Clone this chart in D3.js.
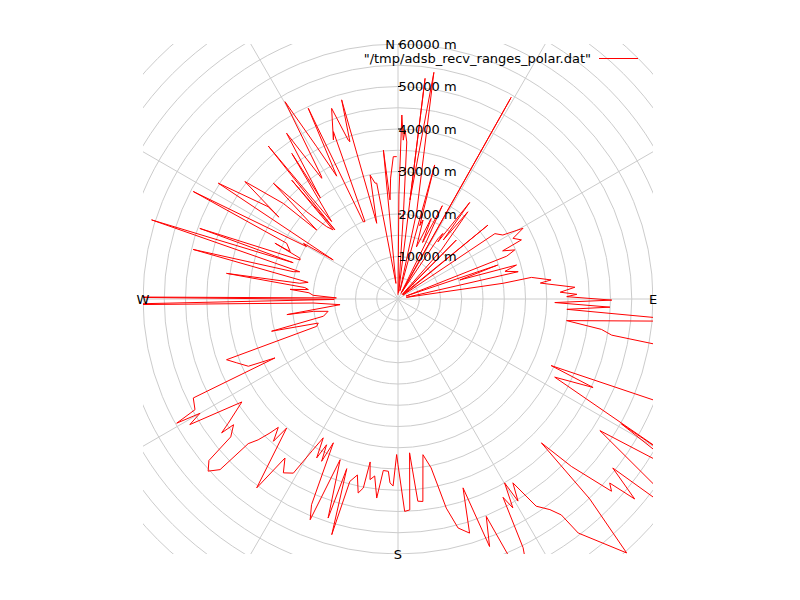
<!DOCTYPE html>
<html><head><meta charset="utf-8">
<script src="https://cdn.jsdelivr.net/npm/d3@7"></script>
<style>
body{margin:0;background:#fff}
text{font-family:"DejaVu Sans",sans-serif;font-size:13px;fill:#000}
</style>
</head><body>
<svg id="c" width="800" height="600"></svg>
<script>
// bearing (degrees clockwise from north) and max receive range (metres)
const bearingDeg = [
0.0,0.5,1.2,1.9,2.4,3.2,3.6,5.0,7.0,6.9,9.0,12.1,13.0,15.3,16.5,17.6,19.5,22.4,23.5,25.4,26.3,28.0,29.3,29.8,
33.5,34.4,34.9,36.6,37.5,38.7,41.5,43.0,44.7,46.5,50.6,52.5,56.0,58.6,60.5,62.2,64.4,65.3,67.2,68.5,70.0,
71.2,72.9,74.0,75.5,77.2,79.0,81.5,80.8,82.9,83.6,84.2,86.2,87.6,88.5,89.2,90.3,91.3,92.2,93.5,94.3,
97.3,98.5,99.6,100.3,111.0,113.5,114.4,116.5,120.5,119.2,121.5,123.1,127.5,128.2,130.2,131.0,132.0,
134.0,135.1,136.2,138.0,142.4,142.9,144.2,146.3,148.0,149.3,149.9,151.2,152.1,153.3,154.8,156.5,
157.9,159.7,161.0,163.0,165.3,167.0,168.9,170.9,173.0,174.4,175.7,176.8,178.2,180.0,
180.5,181.5,182.5,183.2,184.9,186.1,187.5,188.8,189.7,190.4,191.6,193.0,194.8,195.7,196.8,197.7,199.8,
201.7,202.8,204.2,205.2,206.1,207.1,208.3,209.5,211.0,213.4,215.4,216.8,220.8,221.2,223.0,223.7,224.8,
226.0,226.2,227.8,229.5,230.5,232.6,232.8,233.8,236.6,238.9,240.0,240.7,241.4,244.2,244.4,245.8,248.4,
250.5,251.4,253.2,255.7,257.0,260.0,261.7,262.0,264.4,267.3,268.9,269.6,270.4,271.0,
272.5,274.0,275.1,276.0,277.0,278.5,279.1,280.5,283.6,284.6,285.5,287.8,289.1,289.6,291.7,292.6,294.4,
293.7,296.6,297.7,299.8,300.5,301.1,302.8,305.4,304.5,307.5,309.8,310.3,312.9,313.7,315.4,316.8,318.2,
317.6,319.7,319.4,323.9,322.5,326.1,327.7,328.0,330.2,331.9,333.5,334.8,335.8,336.9,338.9,337.9,340.8,
342.6,343.0,344.2,344.3,347.3,348.8,349.6,352.5,354.4,355.4,356.5,358.1,359.5
];
const rangeM = [
1000,24500,43300,37400,39800,37000,21000,1500,52300,23500,54000,21000,2000,32700,18000,19500,13000,20500,14500,24300,15000,1500,54400,2000,
17000,18700,16400,28300,17500,26300,15400,1500,19500,1500,27400,1500,27500,28900,33800,30600,32200,27100,29800,27500,2000,
24800,15200,29000,26000,29000,2000,25000,31800,36300,33700,35200,41700,38200,42100,39700,50300,36900,49900,39800,70000,
40000,48400,51000,75000,80000,39300,50400,41200,82000,60200,80000,56700,90000,64300,72900,66000,67600,
56700,47800,65200,80400,69500,63700,61100,58600,51000,55300,50000,56100,52800,65500,72000,68000,
55200,62100,47000,57600,55700,50500,40500,37100,48000,47800,36300,49700,50000,39000,
36600,44000,43300,40600,40500,47100,42000,43000,38900,45200,46600,42500,44400,57600,41700,54100,40200,
55900,52500,37100,42200,38200,42000,37100,41000,47800,49000,45900,55500,40100,44500,41300,43600,46700,
49000,58000,60300,58500,51000,48700,52100,49500,44000,57200,53800,59700,54400,53500,32100,38600,40800,
42800,20200,19600,30700,18000,16700,20100,26400,13700,20000,75000,15000,75000,14500,
20000,21000,25500,21200,22100,40800,23400,21500,49600,25500,24000,60900,26100,49500,24800,25000,31800,
27700,29300,54400,24800,25800,17800,50300,37500,34000,45400,35100,25100,40000,29700,23900,22300,37500,
22000,47200,24000,42400,30000,47000,33600,33900,53500,40600,32300,49600,19900,19800,42200,40400,47500,
39200,38700,48700,18500,29900,27800,27700,3700,35200,23400,28500,33500,33500
];
const rTickValues = [10000,20000,30000,40000,50000,60000];
const rTickLabels = ["10000 m","20000 m","30000 m","40000 m","50000 m","60000 m"];
const compassLabels = ["N","E","S","W"];
const compassAngles = [0,90,180,270];
const legendLabel = '"/tmp/adsb_recv_ranges_polar.dat"';

const cx = 398, cy = 299, R = 255;
const r = d3.scaleLinear().domain([0, 60000]).range([0, R]);
const toRad = d => d * Math.PI / 180;

const svg = d3.select("#c");
svg.append("rect").attr("width", 800).attr("height", 600).attr("fill", "#fff");
svg.append("defs").append("clipPath").attr("id", "clip")
  .append("rect").attr("x", cx - R).attr("y", cy - R).attr("width", 2 * R).attr("height", 2 * R);

const plot = svg.append("g").attr("clip-path", "url(#clip)")
  .append("g").attr("transform", `translate(${cx},${cy})`);

// grid circles
plot.selectAll("circle.grid").data(d3.range(5000, 90001, 5000)).join("circle")
  .attr("r", d => r(d)).attr("fill", "none").attr("stroke", "#cccccc").attr("stroke-width", 1);
// spokes
plot.selectAll("line.spoke").data(d3.range(0, 360, 30)).join("line")
  .attr("x1", 0).attr("y1", 0)
  .attr("x2", d => r(95000) * Math.sin(toRad(d)))
  .attr("y2", d => -r(95000) * Math.cos(toRad(d)))
  .attr("stroke", "#cccccc").attr("stroke-width", 1);

// data
const data = bearingDeg.map((b, i) => ({ b, m: rangeM[i] }));
const line = d3.lineRadial().angle(d => toRad(d.b)).radius(d => r(d.m));
plot.append("path").datum(data).attr("d", line)
  .attr("fill", "none").attr("stroke", "#ff0000").attr("stroke-width", 1);

// r axis ticks and labels
const ax = svg.append("g");
ax.selectAll("line.tick").data(rTickValues).join("line")
  .attr("x1", cx).attr("x2", cx + 3)
  .attr("y1", d => cy - r(d)).attr("y2", d => cy - r(d))
  .attr("stroke", "#000").attr("stroke-width", 1);
ax.selectAll("text.rl").data(rTickValues).join("text")
  .attr("x", cx + 0.5).attr("y", d => cy - r(d)).attr("dy", "0.36em")
  .attr("text-anchor", "start").text((d, i) => rTickLabels[i]);

// compass labels
const comp = svg.append("g");
compassLabels.forEach((lab, i) => {
  const a = compassAngles[i];
  let x = cx + R * Math.sin(toRad(a)), y = cy - R * Math.cos(toRad(a));
  if (a === 0) x -= 8;
  comp.append("text").attr("x", x).attr("y", y).attr("dy", "0.38em")
    .attr("text-anchor", "middle").text(lab);
});

// legend
svg.append("text").attr("x", 591).attr("y", 62.5).attr("text-anchor", "end").text(legendLabel);
svg.append("line").attr("x1", 599).attr("x2", 638).attr("y1", 58.5).attr("y2", 58.5)
  .attr("stroke", "#ff0000").attr("stroke-width", 1);
</script>
</body></html>
